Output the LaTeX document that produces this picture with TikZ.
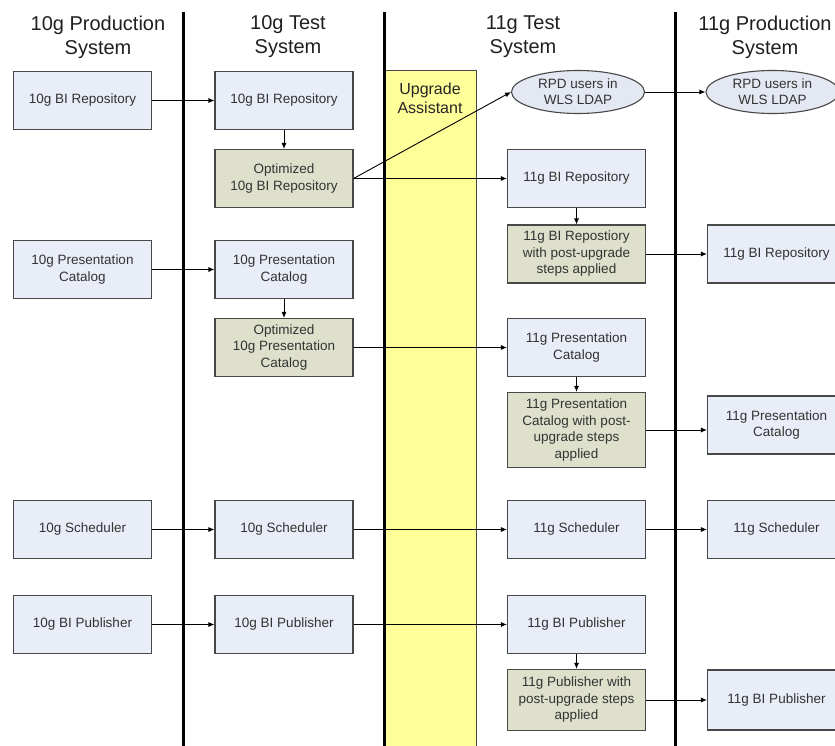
\documentclass[tikz,border=0pt]{standalone}
\usepackage{fontspec}
\setmainfont{Liberation Sans}
\usetikzlibrary{arrows.meta,shapes.geometric}
\definecolor{bluefill}{HTML}{E9EDF7}
\definecolor{olivefill}{HTML}{DEE0CC}
\definecolor{yellowfill}{HTML}{FFFF99}
\definecolor{ellfill}{HTML}{E4E8F2}
\definecolor{boxline}{HTML}{484848}
\definecolor{txt}{HTML}{333333}
\tikzset{
  x=1pt,y=-1pt,
  basebox/.style={draw=boxline, line width=1.1pt, rectangle, minimum width=138pt, align=center, text=txt,
    font=\fontsize{13.5}{16.5}\selectfont, inner sep=2pt},
  bluebox/.style={basebox, fill=bluefill, minimum height=58pt},
  olivebox/.style={basebox, fill=olivefill, minimum height=58pt},
  ellnode/.style={ellipse, draw=boxline, line width=1.1pt, fill=ellfill, minimum width=133pt, minimum height=43pt,
    align=center, text=txt, font=\fontsize{13.5}{16}\selectfont, inner sep=0pt},
  header/.style={align=center, text=black!88, font=\fontsize{20}{24}\selectfont},
  conn/.style={draw=black, line width=0.9pt, -{Latex[length=6pt,width=5pt]}},
  divider/.style={draw=black, line width=3pt}
}
\begin{document}
\begin{tikzpicture}
\useasboundingbox (0,0) rectangle (835,746);
% upgrade assistant band
\node[draw=boxline, line width=0.9pt, fill=yellowfill, minimum width=93pt, minimum height=676pt, inner sep=0pt] (ua) at (429.5,408) {};
\node[align=center, font=\fontsize{16}{19}\selectfont, text=black!85] (ualabel) at (430,98.5) {Upgrade\\Assistant};
% dividers
\coordinate (d1t) at (183,12); \coordinate (d1b) at (183,746);
\coordinate (d2t) at (384.5,12); \coordinate (d2b) at (384.5,746);
\coordinate (d3t) at (675,12); \coordinate (d3b) at (675,746);
\draw[divider] (d1t) -- (d1b);
\draw[divider] (d2t) -- (d2b);
\draw[divider] (d3t) -- (d3b);
% headers
\node[header] (h1) at (98,37) {10g Production\\System};
\node[header] (h2) at (288,37) {10g Test\\System};
\node[header] (h3) at (523,37) {11g Test\\System};
\node[header] (h4) at (765,37) {11g Production\\System};
% column 1
\node[bluebox] (a1) at (82.5,100.5) {10g BI Repository};
\node[bluebox] (d1) at (82.5,269.5) {10g Presentation\\Catalog};
\node[bluebox] (g1) at (82.5,529.5) {10g Scheduler};
\node[bluebox] (p1) at (82.5,624.5) {10g BI Publisher};
% column 2
\node[bluebox] (a2) at (284,100.5) {10g BI Repository};
\node[olivebox] (b2) at (284,178.5) {Optimized\\10g BI Repository};
\node[bluebox] (d2) at (284,269.5) {10g Presentation\\Catalog};
\node[olivebox] (e2) at (284,347.5) {Optimized\\10g Presentation\\Catalog};
\node[bluebox] (g2) at (284,529.5) {10g Scheduler};
\node[bluebox] (p2) at (284,624.5) {10g BI Publisher};
% column 3
\node[ellnode] (l3) at (578,92) {RPD users in\\WLS LDAP};
\node[bluebox] (b3) at (576.5,178.5) {11g BI Repository};
\node[olivebox] (c3) at (576.5,254) {11g BI Repostiory\\with post-upgrade\\steps applied};
\node[bluebox] (e3) at (576.5,347.5) {11g Presentation\\Catalog};
\node[olivebox, minimum height=75pt] (f3) at (576.5,430) {11g Presentation\\Catalog with post-\\upgrade steps\\applied};
\node[bluebox] (g3) at (576.5,529.5) {11g Scheduler};
\node[bluebox] (p3) at (576.5,624.5) {11g BI Publisher};
\node[olivebox, minimum height=61pt] (i3) at (576.5,700) {11g Publisher with\\post-upgrade steps\\applied};
% column 4
\node[ellnode] (l4) at (772.5,92) {RPD users in\\WLS LDAP};
\node[bluebox] (c4) at (776.5,254) {11g BI Repository};
\node[bluebox] (f4) at (776.5,425) {11g Presentation\\Catalog};
\node[bluebox] (g4) at (776.5,529.5) {11g Scheduler};
\node[bluebox, minimum height=60pt] (i4) at (776.5,700) {11g BI Publisher};
% connectors
\draw[conn] (a1) -- (a2);
\draw[conn] (a2) -- (b2);
\draw[conn] (b2.east) -- (l3.west);
\draw[conn] (b2) -- (b3);
\draw[conn] (l3) -- (l4);
\draw[conn] (b3) -- (c3);
\draw[conn] (c3) -- (c4);
\draw[conn] (d1) -- (d2);
\draw[conn] (d2) -- (e2);
\draw[conn] (e2) -- (e3);
\draw[conn] (e3) -- (f3);
\draw[conn] (f3.east) -- (f3.east -| f4.west);
\draw[conn] (g1) -- (g2);
\draw[conn] (g2) -- (g3);
\draw[conn] (g3) -- (g4);
\draw[conn] (p1) -- (p2);
\draw[conn] (p2) -- (p3);
\draw[conn] (p3) -- (i3);
\draw[conn] (i3) -- (i4);
\end{tikzpicture}
\end{document}
